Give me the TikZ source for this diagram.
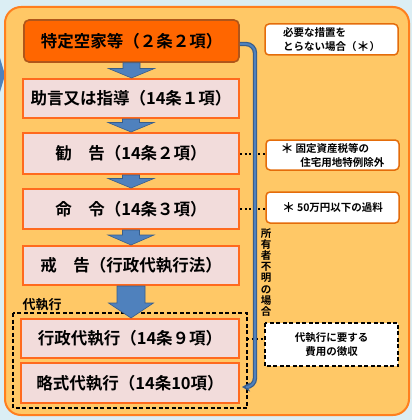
\documentclass[tikz,border=0pt]{standalone}
\usepackage{fontspec}
\usetikzlibrary{calc,arrows.meta}
\newfontfamily\jp{Noto Sans CJK JP}[BoldFont={Noto Sans CJK JP Bold}]
\definecolor{outerbg}{HTML}{DBEEF4}
\definecolor{bigfill}{HTML}{FFC866}
\definecolor{bigline}{HTML}{FF7F1E}
\definecolor{topfill}{HTML}{FF6600}
\definecolor{topline}{HTML}{B0561A}
\definecolor{pinkfill}{HTML}{F2DCDB}
\definecolor{pinkline}{HTML}{FF6A1E}
\definecolor{rline}{HTML}{E46C0A}
\definecolor{bluefill}{HTML}{4F81BD}
\definecolor{bluedark}{HTML}{385D8A}
\newcommand\bigast{\raisebox{-1pt}{\fontsize{13}{14}\selectfont ＊}}
\newcommand\downarr[5]{%
  \filldraw[blockarrow] let \p1=(#1.south), \p2=(#2.north) in
  (\x1-#3,\y1) -- (\x1+#3,\y1) -- (\x1+#3,\y2+#5) -- (\x1+#4,\y2+#5)
  -- (\x1,\y2) -- (\x1-#4,\y2+#5) -- (\x1-#3,\y2+#5) -- cycle;}
\begin{document}
\begin{tikzpicture}[x=1pt,y=-1pt,
  every node/.style={font=\jp\bfseries},
  mainbox/.style={draw=pinkline, fill=pinkfill, line width=2pt, inner sep=0pt,
    minimum width=216pt, font=\jp\bfseries\fontsize{16.5}{18}\selectfont},
  topbox/.style={draw=topline, fill=topfill, line width=1.6pt, rounded corners=5pt,
    inner sep=0pt, minimum width=215pt, minimum height=42pt,
    font=\jp\bfseries\fontsize{16.5}{18}\selectfont},
  notebox/.style={draw=rline, fill=white, line width=1.5pt, rounded corners=4pt,
    inner sep=0pt, minimum width=133pt, font=\jp\bfseries\fontsize{10.5}{14}\selectfont},
  blockarrow/.style={fill=bluefill, draw=bluedark, line width=0.6pt},
  dotline/.style={black, line width=2pt, dash pattern=on 2pt off 2.6pt},
  dashbox/.style={black, line width=1.5pt, dash pattern=on 4pt off 2.5pt}]
\useasboundingbox (0,0) rectangle (412,420);
\fill[outerbg] (0,0) rectangle (412,420);
\fill[bluefill] (0,58) -- (5,75) -- (0,92) -- cycle;
\draw[draw=bigline, fill=bigfill, line width=2pt, rounded corners=16pt] (5,7) rectangle (409,415);

% main column
\node[topbox] (b1) at (131.5,41) {特定空家等（２条２項）};
\node[mainbox, minimum height=39pt] (b2) at (131,98.5) {助言又は指導（14条１項）};
\node[mainbox, minimum height=41pt] (b3) at (131,153.5) {勧　告（14条２項）};
\node[mainbox, minimum height=40pt] (b4) at (131,209) {命　令（14条３項）};
\node[mainbox, minimum height=39pt] (b5) at (131,265.5) {戒　告（行政代執行法）};
\node[anchor=west, font=\jp\bfseries\fontsize{13}{14}\selectfont] (lbl) at (19,305) {代執行};
\draw[dashbox] (13,313) rectangle (247,408);
\coordinate (dashE) at (247,338.5);
\node[mainbox, minimum width=218pt, minimum height=39pt] (b6) at (130,338.5) {行政代執行（14条９項）};
\node[mainbox, minimum width=218pt, minimum height=40pt] (b7) at (130,383) {略式代執行（14条10項）};

% block arrows
\downarr{b1}{b2}{8.5pt}{23pt}{9.5pt}
\downarr{b2}{b3}{8.5pt}{23pt}{9.5pt}
\downarr{b3}{b4}{8.5pt}{23pt}{9.5pt}
\downarr{b4}{b5}{8.5pt}{23pt}{10pt}
\downarr{b5}{b6}{14pt}{22.5pt}{15pt}

% right notes
\node[notebox, minimum height=31pt, align=left] (r1) at (331.5,39.5) {必要な措置を\\とらない場合（\bigast）};
\node[notebox, minimum height=30pt, align=left] (r2) at (332.5,155) {\bigast\hspace{2pt}固定資産税等の\\\hspace{1.9em}住宅用地特例除外};
\node[notebox, minimum height=31pt] (r3) at (332.5,207.5) {\bigast\hspace{2pt}50万円以下の過料};
\node[fill=white, inner sep=0pt, minimum width=133pt, minimum height=43pt, align=center,
  font=\jp\bfseries\fontsize{10.5}{14}\selectfont] (r4) at (331.5,344.5) {代執行に要する\\費用の徴収};
\draw[dashbox] (r4.north west) rectangle (r4.south east);

% dotted connectors
\draw[dotline] (b3.east) -- (b3.east -| r2.west);
\draw[dotline] (b4.east) -- (b4.east -| r3.west);
\draw[dotline] (dashE) -- (dashE -| r4.west);

% blue bypass line
\coordinate (bstart) at ($(b1.east)+(0,3)$);
\coordinate (btip) at ($(b7.east)+(2,4)$);
\draw[bluedark, line width=4.4pt, rounded corners=9pt, -{Stealth[length=8pt,width=9pt]}]
  (bstart) -- (255,44) -- (255,387) -- (btip);
\draw[bluefill, line width=2pt, rounded corners=9pt, shorten >=7pt]
  (bstart) -- (255,44) -- (255,387) -- (btip);

\node[align=center, inner sep=0pt, font=\jp\bfseries\fontsize{10.5}{11.1}\selectfont] (vt) at (266,272.5)
  {所\\有\\者\\不\\明\\の\\場\\合};
\end{tikzpicture}
\end{document}
